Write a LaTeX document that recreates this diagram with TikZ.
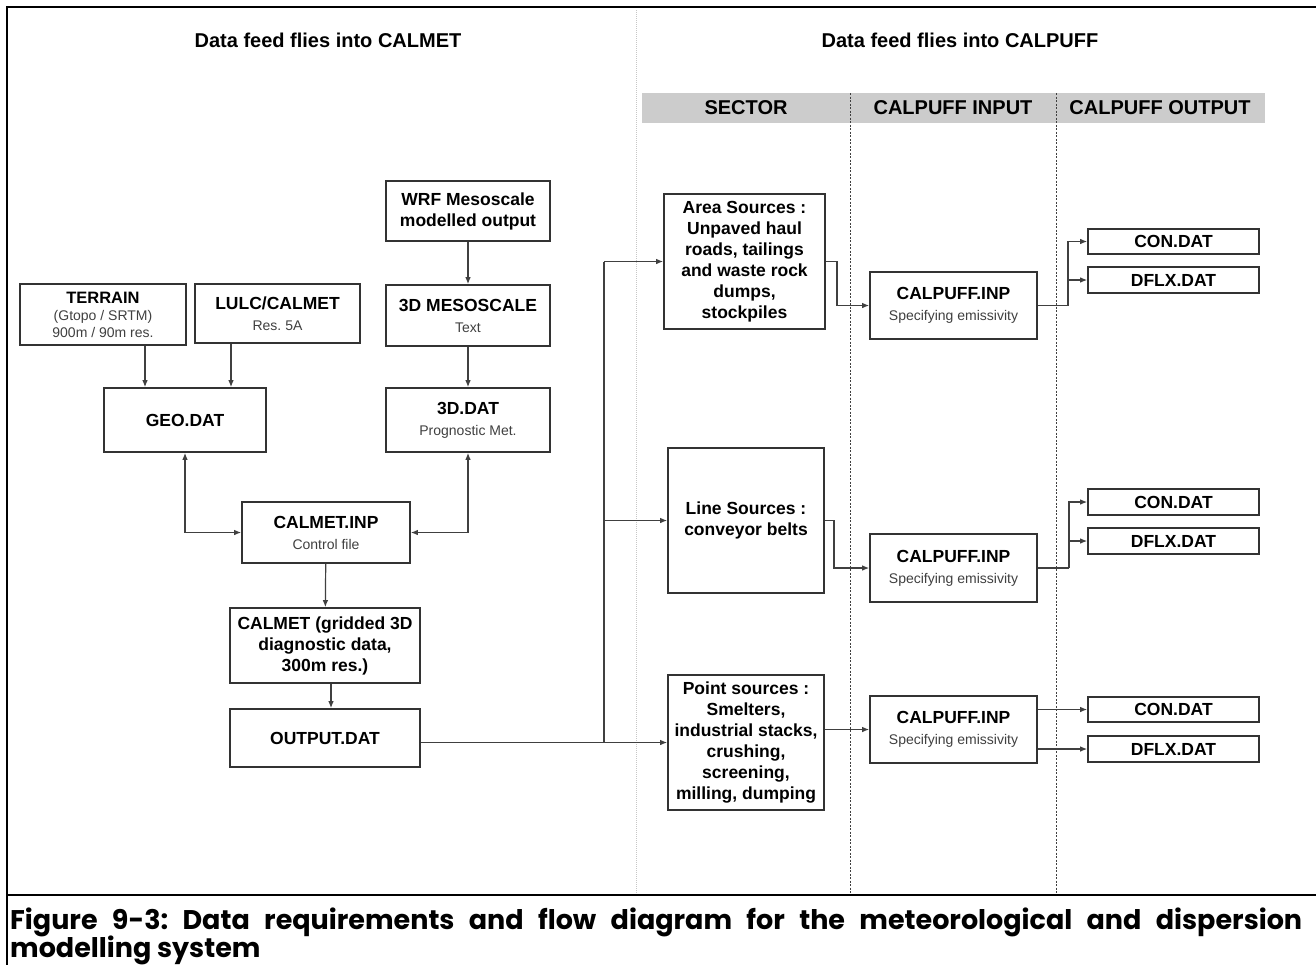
\documentclass[tikz,border=0pt]{standalone}
\usepackage{fontspec}
\setmainfont{Liberation Sans}
\newfontfamily\capfont{Poppins}
\usetikzlibrary{arrows.meta}
\frenchspacing

% smaller, lighter second line inside a box
\newcommand\subline[1]{{\normalfont\fontsize{14}{17}\selectfont\color{black!75}#1}}

\begin{document}
\begin{tikzpicture}[x=1pt,y=-1pt,
  box/.style={draw=black!80, line width=1.6pt, fill=white, align=center,
    inner sep=2pt, font=\bfseries\fontsize{17.5}{21}\selectfont},
  title/.style={font=\bfseries\fontsize{20}{24}\selectfont},
  head/.style={font=\bfseries\fontsize{20}{24}\selectfont},
  conn/.style={draw=black!75, line width=1.2pt},
  arr/.style={conn, -{Latex[length=7pt,width=5.5pt]}},
  arrboth/.style={conn, {Latex[length=7pt,width=5.5pt]}-{Latex[length=7pt,width=5.5pt]}},
  captext/.style={anchor=base west, inner sep=0pt, font=\capfont\bfseries\fontsize{27}{30}\selectfont},
]
\useasboundingbox (0,0) rectangle (1316,964);

% page frame
\draw[line width=2.5pt] (1320,7) -- (7,7) -- (7,966);
\draw[line width=2.5pt] (7,895) -- (1320,895);

% column header band and separators
\fill[gray!40] (642,93) rectangle (1265,123);
\draw[gray!45, densely dotted, line width=1pt] (636,10) -- (636,893);
\draw[black!75, line width=0.9pt, dash pattern=on 2pt off 1.5pt] (850,93) -- (850,893);
\draw[black!75, line width=0.9pt, dash pattern=on 2pt off 1.5pt] (1056,93) -- (1056,893);

\node[title] (t1) at (328,40) {Data feed flies into CALMET};
\node[title] (t2) at (960,40) {Data feed flies into CALPUFF};
\node[head] (h1) at (746,108) {SECTOR};
\node[head] (h2) at (953,108) {CALPUFF INPUT};
\node[head] (h3) at (1160,108) {CALPUFF OUTPUT};

% CALMET side
\node[box, minimum width=166pt, minimum height=61pt, font=\bfseries\fontsize{16.5}{17}\selectfont]
  (terrain) at (103,314.5) {TERRAIN\\\subline{(Gtopo / SRTM)}\\\subline{900m / 90m res.}};
\node[box, minimum width=165pt, minimum height=59pt] (lulc) at (277.5,313.5)
  {LULC/CALMET\\\subline{Res. 5A}};
\node[box, minimum width=162pt, minimum height=64pt] (geo) at (185,420) {GEO.DAT};
\node[box, minimum width=164pt, minimum height=60pt] (wrf) at (468,211)
  {WRF Mesoscale\\modelled output};
\node[box, minimum width=164pt, minimum height=61pt] (meso) at (468,315.5)
  {3D MESOSCALE\\\subline{Text}};
\node[box, minimum width=164pt, minimum height=64pt] (dat3d) at (468,420)
  {3D.DAT\\\subline{Prognostic Met.}};
\node[box, minimum width=168pt, minimum height=61pt] (calmetinp) at (326,532.5)
  {CALMET.INP\\\subline{Control file}};
\node[box, minimum width=190pt, minimum height=75pt] (calmet) at (325,645.5)
  {CALMET (gridded 3D\\diagnostic data,\\300m res.)};
\node[box, minimum width=190pt, minimum height=58pt] (output) at (325,738) {OUTPUT.DAT};

% CALPUFF side: sectors
\node[box, minimum width=161pt, minimum height=135pt] (area) at (744.5,261.5)
  {Area Sources :\\Unpaved haul\\roads, tailings\\and waste rock\\dumps,\\stockpiles};
\node[box, minimum width=156pt, minimum height=145pt] (line) at (746,520.5)
  {Line Sources :\\conveyor belts};
\node[box, minimum width=156pt, minimum height=135pt] (point) at (746,742.5)
  {Point sources :\\Smelters,\\industrial stacks,\\crushing,\\screening,\\milling, dumping};

% CALPUFF inputs
\node[box, minimum width=167pt, minimum height=67pt] (inp1) at (953.5,305.5)
  {CALPUFF.INP\\\subline{Specifying emissivity}};
\node[box, minimum width=167pt, minimum height=68pt] (inp2) at (953.5,568)
  {CALPUFF.INP\\\subline{Specifying emissivity}};
\node[box, minimum width=167pt, minimum height=67pt] (inp3) at (953.5,729.5)
  {CALPUFF.INP\\\subline{Specifying emissivity}};

% CALPUFF outputs
\node[box, minimum width=171pt, minimum height=25pt] (con1) at (1173.5,241.5) {CON.DAT};
\node[box, minimum width=171pt, minimum height=26pt] (dflx1) at (1173.5,280) {DFLX.DAT};
\node[box, minimum width=171pt, minimum height=26pt] (con2) at (1173.5,502) {CON.DAT};
\node[box, minimum width=171pt, minimum height=26pt] (dflx2) at (1173.5,541) {DFLX.DAT};
\node[box, minimum width=171pt, minimum height=25pt] (con3) at (1173.5,709.5) {CON.DAT};
\node[box, minimum width=171pt, minimum height=26pt] (dflx3) at (1173.5,749) {DFLX.DAT};

% CALMET flow
\draw[arr] ([xshift=42pt]terrain.south) -- ([xshift=42pt]terrain.south |- geo.north);
\draw[arr] ([xshift=-46.5pt]lulc.south) -- ([xshift=-46.5pt]lulc.south |- geo.north);
\draw[arr] (wrf) -- (meso);
\draw[arr] (meso) -- (dat3d);
\draw[arrboth] (geo.south) |- (calmetinp.west);
\draw[arrboth] (dat3d.south) |- (calmetinp.east);
\draw[arr] (calmetinp) -- (calmet);
\draw[arr] ([xshift=6pt]calmet.south) -- ([xshift=6pt]output.north);

% OUTPUT.DAT feeds every sector
\coordinate (trunk) at (604,0);
\draw[arr] (output.east |- point.west) -- (point.west);
\draw[conn] (trunk |- point.west) -- (trunk |- area.west);
\draw[arr] (trunk |- area.west) -- (area.west);
\draw[arr] (trunk |- line.west) -- (line.west);

% sectors into CALPUFF inputs
\coordinate (j1) at (837,0);
\coordinate (j2) at (834,0);
\draw[arr] (area.east) -- (area.east -| j1) |- (inp1.west);
\draw[arr] (line.east) -- (line.east -| j2) |- (inp2.west);
\draw[arr] (point.east |- inp3.west) -- (inp3.west);

% CALPUFF inputs to outputs
\coordinate (k1) at (1068,0);
\coordinate (k2) at (1069,0);
\draw[conn] (inp1.east) -- (inp1.east -| k1);
\draw[arr] (inp1.east -| k1) |- (con1.west);
\draw[arr] (k1 |- dflx1.west) -- (dflx1.west);
\draw[conn] (inp2.east) -- (inp2.east -| k2);
\draw[arr] (inp2.east -| k2) |- (con2.west);
\draw[arr] (k2 |- dflx2.west) -- (dflx2.west);
\draw[arr] (inp3.east |- con3.west) -- (con3.west);
\draw[arr] (inp3.east |- dflx3.west) -- (dflx3.west);

% caption
\node[captext] (cap1) at (10,929)
  {\makebox[1292pt][s]{Figure 9-3: Data requirements and flow diagram for the meteorological and dispersion}};
\node[captext] (cap2) at (10,957) {modelling system};
\end{tikzpicture}
\end{document}
